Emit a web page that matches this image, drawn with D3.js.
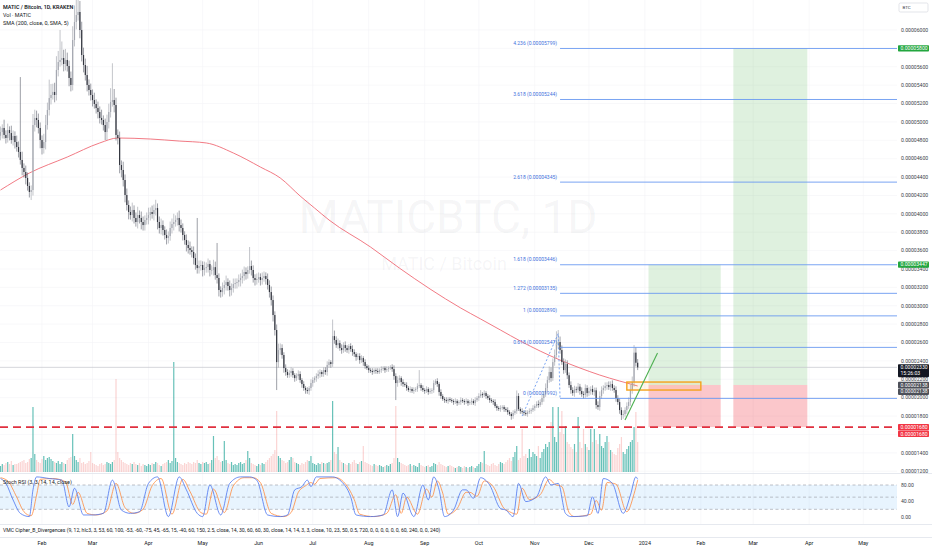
<!DOCTYPE html>
<html>
<head>
<meta charset="utf-8">
<script src="https://cdn.jsdelivr.net/npm/d3@7"></script>
<style>
  html, body { margin: 0; padding: 0; background: #fff; }
  svg { display: block; font-family: Roboto, "Noto Sans", sans-serif; }
</style>
</head>
<body>
<svg id="chart" width="932" height="550"></svg>
<script>
// prices are in satoshi (1e-8 BTC)
const firstDay = "2023-01-09";
const firstOpen = 4850;
const closes = [
  4890,4934,4858,4825,4912,4879,4803,4847,4781,4727,
  4673,4586,4499,4455,4390,4303,4238,4259,4966,5043,
  5021,4934,4803,4716,4781,4966,5130,5260,5293,5326,
  5293,5565,5652,5674,5695,5630,5674,5608,5478,5402,
  5891,6087,6163,6196,6000,5728,5619,5510,5402,5347,
  5293,5238,5195,5151,5108,5043,5021,4966,4890,4999,
  5108,5217,5238,5184,4858,4825,4531,4477,4368,4205,
  4096,4020,3987,4042,3955,3911,3987,3955,3911,3878,
  3933,3955,3987,4020,3998,4042,4063,3911,3846,3878,
  3824,3770,3737,3758,3846,3889,3911,3933,3955,3878,
  3846,3770,3715,3661,3628,3606,3585,3519,3443,3410,
  3432,3443,3389,3410,3421,3454,3389,3389,3420,3334,
  3302,3171,3149,3193,3226,3258,3215,3171,3193,3236,
  3247,3258,3280,3302,3323,3367,3345,3389,3432,3389,
  3302,3280,3291,3312,3280,3302,3323,3291,3226,3149,
  3062,2899,2736,2387,2518,2540,2464,2322,2279,2246,
  2268,2290,2246,2213,2235,2257,2192,2148,2105,2083,
  2072,2105,2159,2192,2213,2235,2257,2279,2257,2300,
  2279,2355,2387,2366,2670,2627,2572,2594,2540,2518,
  2572,2540,2518,2562,2529,2496,2474,2442,2453,2409,
  2431,2387,2344,2322,2300,2290,2279,2300,2290,2279,
  2300,2311,2322,2300,2311,2322,2333,2311,2235,2159,
  2192,2213,2170,2148,2137,2105,2083,2094,2072,2083,
  2094,2126,2137,2105,2083,2072,2094,2061,2072,2083,
  2159,2181,2148,2061,2018,1985,1974,1963,1985,1974,
  1963,1952,1963,1941,1952,1974,1963,1952,1963,1941,
  1952,1963,1941,1974,1996,2018,2039,2028,2050,2018,
  1996,1974,1963,1952,1909,1887,1876,1887,1898,1876,
  1865,1843,1822,1800,1833,1854,2018,1876,1854,1843,
  1833,1822,1843,1854,1865,1887,1909,1930,1920,1952,
  1996,2039,2105,2192,2279,2213,2387,2464,2572,2605,
  2518,2387,2300,2366,2244,2137,2083,2050,2090,2083,
  2120,2072,2039,2030,2105,2050,2072,2094,2061,2080,
  1920,1898,2018,2083,2105,2126,2137,2115,2148,2105,
  2083,1996,1952,1865,1811,1822,1865,1909,1952,2083,
  2170,2490,2380,2330
];
const wickUp = [
  60,40,90,50,70,40,80,60,50,70, 60,815,90,50,70,60,40,50,120,90,
  80,70,60,50,90,110,80,200,120,90, 100,150,120,326,180,90,120,80,60,70,
  150,180,257,150,120,90,80,70,100,60, 70,60,80,50,70,60,90,50,70,80,
  90,150,400,120,80,60,70,50,90,60, 70,50,60,80,50,60,90,50,70,60,
  50,60,80,50,70,60,90,50,60,70, 50,40,60,50,70,60,90,50,60,80,
  60,50,40,60,50,70,40,60,50,512, 60,50,40,70,50,60,40,50,80,60,
  349,50,40,60,50,70,40,60,50,60, 50,40,60,50,70,60,50,40,207,60,
  50,40,60,50,40,60,50,40,60,50, 60,50,40,60,70,50,40,30,40,30,
  30,40,30,20,30,40,30,20,30,20, 30,20,40,30,20,30,40,30,20,30,
  30,40,30,20,180,60,40,50,30,40, 30,40,30,20,30,40,30,20,30,30,
  30,20,30,20,30,20,30,20,20,30, 20,30,20,20,30,20,20,30,40,30,
  40,30,20,30,20,30,20,30,20,30, 20,30,163,20,30,20,30,20,30,20,
  30,20,30,20,30,20,20,30,20,20, 20,20,30,20,20,30,20,20,30,20,
  20,30,20,30,20,30,44,20,30,20, 20,30,20,20,30,20,20,30,20,20,
  20,30,20,20,30,20,60,30,20,30, 20,30,20,30,20,30,20,30,40,30,
  40,30,50,40,60,50,40,60,150,131, 60,50,40,50,40,30,40,30,40,30,
  40,30,40,30,40,30,40,30,40,30, 30,40,50,40,30,40,30,40,30,40,
  30,40,30,40,30,40,30,40,50,60, 60,82,60,40
];
const wickDn = [
  50,70,40,60,50,80,40,60,70,50, 60,50,80,60,70,50,60,88,60,70,
  80,60,90,70,60,80,50,60,70,50, 80,60,70,50,60,80,70,60,90,70,
  60,70,80,60,90,70,80,60,70,60, 60,70,50,60,70,60,50,60,87,87,
  70,60,50,80,60,70,90,80,70,80, 60,80,50,70,60,50,70,60,80,60,
  60,50,70,60,50,70,60,80,60,70, 60,50,70,60,50,60,70,50,60,70,
  50,60,50,70,60,50,60,70,50,60, 60,50,70,60,50,60,70,50,60,50,
  60,70,60,50,70,60,50,70,60,50, 50,60,50,70,60,50,60,50,40,60,
  50,60,50,40,60,50,40,60,50,60, 60,70,60,304,60,50,40,50,40,30,
  30,40,30,40,30,40,30,40,30,40, 30,40,30,40,30,40,30,40,30,30,
  30,40,30,40,30,40,30,40,30,40, 30,40,30,40,30,40,30,40,30,40,
  30,40,30,20,30,20,30,20,30,20, 20,30,20,30,20,30,20,30,40,185,
  40,30,40,30,20,30,20,30,20,30, 20,30,20,30,20,30,20,30,20,30,
  30,20,30,40,30,20,30,20,30,20, 20,30,20,30,20,30,20,30,20,30,
  20,30,20,30,20,30,20,30,20,30, 20,30,20,30,20,30,20,30,20,30,
  20,30,20,40,30,20,30,20,30,20, 30,20,30,20,30,20,30,20,30,20,
  30,40,30,40,30,40,30,40,30,40, 40,30,40,30,40,30,40,30,40,30,
  30,40,30,40,30,40,30,40,30,40, 40,30,40,30,40,30,40,30,40,30,
  30,40,30,40,54,40,30,40,30,40, 40,50,40,30
];
const volumes = [
  6,8,7,9,10,8,11,7,8,8, 9,10,11,12,9,10,13,14,65,18,
  12,10,9,13,16,12,14,15,13,11, 10,9,11,8,10,9,8,12,14,15,
  38,16,12,10,14,9,10,8,9,11, 20,9,8,7,6,8,9,7,8,10,
  9,8,10,12,93,20,14,12,10,9, 8,7,9,8,10,8,7,9,6,8,
  7,6,8,7,9,8,10,9,7,6, 8,9,10,12,9,11,110,14,10,9,
  8,7,9,8,10,9,8,10,9,12, 9,8,10,9,10,8,9,12,36,14,
  16,12,10,11,31,12,9,8,10,7, 8,7,9,10,8,9,12,21,14,9,
  8,7,6,8,7,9,8,10,12,14, 16,18,22,61,16,14,12,11,9,10,
  12,15,14,10,9,8,7,9,8,10, 12,11,16,9,8,7,9,8,10,9,
  8,9,10,12,71,20,18,25,12,10, 9,8,7,9,8,10,12,9,8,10,
  11,26,10,9,8,7,6,8,7,6, 7,6,5,6,7,6,8,9,14,66,
  14,10,9,8,7,6,7,8,6,7, 6,5,9,7,6,5,6,7,5,6,
  9,8,7,10,8,7,6,5,6,7, 6,5,4,5,6,5,4,6,5,4,
  5,6,5,4,6,8,10,9,21,8, 7,6,8,9,7,6,8,10,9,8,
  10,12,14,11,15,20,26,12,14,43, 16,18,14,23,15,20,18,16,26,14,
  20,23,28,25,30,50,65,35,30,65, 40,61,38,46,30,28,25,23,28,20,
  55,30,24,43,28,25,22,43,30,43, 32,28,38,26,24,30,36,30,22,20,
  18,17,24,28,35,20,18,23,26,30, 32,45,60,30
];
// [candle index, value]
const smaPoints = [
  [0,4259],[16,4444],[37,4618],[55,4771],[65,4825],[83,4814],[99,4792],[114,4771],
  [129,4662],[144,4509],[155,4390],[166,4194],[174,4063],[182,3933],[205,3639],
  [221,3410],[238,3182],[255,2975],[266,2856],[277,2736],[288,2616],[299,2507],
  [310,2409],[321,2323],[332,2246],[343,2181],[353,2127]
];
const stochK = [
  [0,96],[3,84],[7,43],[11,10],[16,2],[18,68],[20,100],[27,96],[34,92],[38,26],[41,72],
  [46,6],[51,6],[57,10],[62,92],[67,18],[72,10],[77,14],[82,84],[87,100],[93,2],[99,100],
  [103,68],[109,10],[112,2],[116,80],[122,6],[127,84],[133,100],[138,100],[142,92],[148,6],
  [155,2],[159,6],[163,68],[167,76],[170,92],[172,76],[175,100],[184,100],[188,92],[194,51],
  [197,6],[205,2],[212,6],[217,68],[220,2],[223,60],[229,2],[234,80],[237,43],[240,100],
  [243,68],[246,2],[251,18],[256,68],[258,68],[262,47],[266,98],[271,80],[277,22],[280,18],
  [284,2],[287,84],[291,39],[297,51],[302,100],[305,80],[309,84],[313,10],[316,2],[325,4],
  [328,51],[331,10],[334,96],[339,84],[345,10],[349,55],[352,100],[353,94]
];
const stochD = [
  [0,98],[4,90],[9,50],[13,14],[17,4],[20,55],[22,94],[29,96],[36,88],[40,32],[43,62],
  [48,10],[53,6],[59,16],[64,84],[69,24],[74,10],[79,20],[84,78],[89,96],[95,8],[101,94],
  [105,64],[111,12],[114,8],[118,70],[124,12],[129,78],[135,98],[140,98],[144,86],[150,10],
  [157,2],[161,12],[165,62],[169,78],[172,86],[174,82],[177,96],[186,98],[190,88],[196,44],
  [199,8],[207,2],[214,10],[219,56],[222,10],[225,50],[231,8],[236,70],[239,50],[242,90],
  [245,60],[248,8],[253,22],[258,62],[260,62],[264,52],[268,90],[273,76],[279,22],[282,14],
  [286,8],[289,72],[293,44],[299,56],[304,94],[307,82],[311,76],[315,12],[318,2],[327,8],
  [330,42],[333,18],[336,86],[341,82],[347,14],[351,58],[353,92]
];
const fibLevels = [0, 0.618, 1, 1.272, 1.618, 2.618, 3.618, 4.236];
const fibPrices = [1992, 2547, 2890, 3135, 3446, 4345, 5244, 5799];
const fibAnchors = [["2023-10-25", 1800], ["2023-11-14", 2698], ["2023-11-15", 1992]];
const positions = [
  { start: "2024-01-03", end: "2024-02-12", entry: 2138, target: 3447, stop: 1680 },
  { start: "2024-02-19", end: "2024-03-31", entry: 2138, target: 5800, stop: 1680 }
];
const zoneBox = { start: "2023-12-22", end: "2024-02-01", top: 2170, bottom: 2083 };
const trendLine = [["2023-12-21", 1757], ["2024-01-08", 2486]];
const stopLevel = 1680;
const lastPrice = 2330;
const countdown = "15:26:03";
const monthTicks = [
  ["2023-02-01","Feb"],["2023-03-01","Mar"],["2023-04-01","Apr"],["2023-05-01","May"],
  ["2023-06-01","Jun"],["2023-07-01","Jul"],["2023-08-01","Aug"],["2023-09-01","Sep"],
  ["2023-10-01","Oct"],["2023-11-01","Nov"],["2023-12-01","Dec"],["2024-01-01","2024"],
  ["2024-02-01","Feb"],["2024-03-01","Mar"],["2024-04-01","Apr"],["2024-05-01","May"]
];
const priceTicks = d3.range(1200, 6001, 200);
const stochTicks = [0, 40, 80];
const stochLines = [20, 50, 80];

const svg = d3.select("#chart");
const plotR = 897, paneB = 473;
const fmt = v => (v / 1e8).toFixed(8);
const day0 = new Date(firstDay + "T00:00:00Z");
const dayOf = i => d3.utcDay.offset(day0, i);
const dt = s => new Date(s + "T00:00:00Z");

const x = d3.scaleUtc().domain([dt("2023-02-01"), dt("2024-05-01")]).range([42, 863.3]);
const y = d3.scaleLinear().domain([6000, 1200]).range([30, 471.2]);
const yv = d3.scaleLinear().domain([0, 110]).range([472, 362]);
const ys = d3.scaleLinear().domain([0, 100]).range([517.4, 476.9]);

const bars = closes.map((c, i) => {
  const o = i ? closes[i - 1] : firstOpen;
  return { date: dayOf(i), o, c, h: Math.max(o, c) + wickUp[i], l: Math.min(o, c) - wickDn[i], v: volumes[i] };
});

svg.append("defs").append("clipPath").attr("id", "pane")
  .append("rect").attr("x", 0).attr("y", 0).attr("width", plotR).attr("height", paneB);

// grid
const grid = svg.append("g").attr("stroke", "#f3f4f6").attr("stroke-width", 0.6);
grid.selectAll(".h").data(priceTicks).join("line")
  .attr("x1", 0).attr("x2", plotR).attr("y1", d => y(d)).attr("y2", d => y(d));
grid.selectAll(".v").data(monthTicks).join("line")
  .attr("x1", d => x(dt(d[0]))).attr("x2", d => x(dt(d[0]))).attr("y1", 0).attr("y2", 524);

const pane = svg.append("g").attr("clip-path", "url(#pane)");

// watermark
pane.append("text").attr("x", 448).attr("y", 233).attr("text-anchor", "middle")
  .attr("font-size", 46).attr("fill", "rgba(120,123,134,0.07)").text("MATICBTC, 1D");
pane.append("text").attr("x", 444).attr("y", 270).attr("text-anchor", "middle")
  .attr("font-size", 18).attr("fill", "rgba(120,123,134,0.07)").text("MATIC / Bitcoin");

// volume
pane.append("g").selectAll("rect").data(bars).join("rect")
  .attr("x", d => x(d.date) - 0.6).attr("width", 1.2)
  .attr("y", d => yv(d.v)).attr("height", d => yv(0) - yv(d.v))
  .attr("fill", d => d.c >= d.o ? "rgba(38,166,154,0.7)" : "rgba(239,83,80,0.25)");

// long positions
positions.forEach(p => {
  const x0 = x(dt(p.start)), x1 = x(dt(p.end));
  pane.append("rect").attr("x", x0).attr("width", x1 - x0)
    .attr("y", y(p.target)).attr("height", y(p.entry) - y(p.target)).attr("fill", "rgba(76,175,80,0.18)");
  pane.append("rect").attr("x", x0).attr("width", x1 - x0)
    .attr("y", y(p.entry)).attr("height", y(p.stop) - y(p.entry)).attr("fill", "rgba(242,54,69,0.28)");
});

// stop level
pane.append("line").attr("x1", 0).attr("x2", plotR).attr("y1", y(stopLevel)).attr("y2", y(stopLevel))
  .attr("stroke", "#e0303f").attr("stroke-width", 1.8).attr("stroke-dasharray", "8,5");

// last price line
pane.append("line").attr("x1", 0).attr("x2", plotR).attr("y1", y(lastPrice)).attr("y2", y(lastPrice))
  .attr("stroke", "#c3c5cb").attr("stroke-width", 0.7);

// SMA 200
pane.append("path").datum(smaPoints)
  .attr("fill", "none").attr("stroke", "#ef6b76").attr("stroke-width", 0.9)
  .attr("d", d3.line().x(d => x(dayOf(d[0]))).y(d => y(d[1])).curve(d3.curveMonotoneX));

// candles
const cg = pane.append("g");
cg.selectAll("line").data(bars).join("line")
  .attr("x1", d => x(d.date)).attr("x2", d => x(d.date))
  .attr("y1", d => y(d.h)).attr("y2", d => y(d.l))
  .attr("stroke", d => d.c >= d.o ? "#9a9da6" : "#5d606b").attr("stroke-width", 0.6);
cg.selectAll("rect").data(bars).join("rect")
  .attr("x", d => x(d.date) - 0.6).attr("width", 1.2)
  .attr("y", d => y(Math.max(d.o, d.c)))
  .attr("height", d => Math.max(0.6, Math.abs(y(d.o) - y(d.c))))
  .attr("fill", d => d.c >= d.o ? "#a4a7b0" : "#33363f");

// fib extension
const fx0 = x(dt(fibAnchors[2][0]));
pane.append("path").datum(fibAnchors)
  .attr("fill", "none").attr("stroke", "#5b8ff0").attr("stroke-width", 0.8).attr("stroke-dasharray", "2,2")
  .attr("d", d3.line().x(d => x(dt(d[0]))).y(d => y(d[1])));
const fib = pane.append("g");
fib.selectAll("line").data(fibPrices).join("line")
  .attr("x1", fx0).attr("x2", plotR).attr("y1", d => y(d)).attr("y2", d => y(d))
  .attr("stroke", "#6b9af0").attr("stroke-width", 0.9);
fib.selectAll("text").data(fibPrices).join("text")
  .attr("x", fx0 - 3).attr("y", d => y(d) - 3.5).attr("text-anchor", "end")
  .attr("font-size", 5).attr("fill", "#3f72dc")
  .text((d, i) => `${fibLevels[i]} (${fmt(d)})`);

// zone box
pane.append("rect")
  .attr("x", x(dt(zoneBox.start))).attr("width", x(dt(zoneBox.end)) - x(dt(zoneBox.start)))
  .attr("y", y(zoneBox.top)).attr("height", y(zoneBox.bottom) - y(zoneBox.top))
  .attr("fill", "rgba(255,152,0,0.08)").attr("stroke", "#f5a21c").attr("stroke-width", 1.4);

// trend line
pane.append("line")
  .attr("x1", x(dt(trendLine[0][0]))).attr("y1", y(trendLine[0][1]))
  .attr("x2", x(dt(trendLine[1][0]))).attr("y2", y(trendLine[1][1]))
  .attr("stroke", "#4caf50").attr("stroke-width", 1.1);

// legends
const lg = svg.append("g").attr("font-size", 5.4).attr("fill", "#131722");
lg.append("text").attr("x", 3).attr("y", 8.6).attr("font-weight", 600).text("MATIC / Bitcoin, 1D, KRAKEN");
lg.append("text").attr("x", 3).attr("y", 16.9).text("Vol · MATIC");
lg.append("text").attr("x", 3).attr("y", 25.2).text("SMA (200, close, 0, SMA, 5)");

// separators
svg.append("g").attr("stroke", "#e0e3eb").attr("stroke-width", 0.8)
  .selectAll("line").data([473.5, 524.5, 537.5]).join("line")
  .attr("x1", 0).attr("x2", 932).attr("y1", d => d).attr("y2", d => d);

// stoch RSI pane
svg.append("rect").attr("x", 0).attr("width", plotR)
  .attr("y", ys(80)).attr("height", ys(20) - ys(80)).attr("fill", "rgba(33,150,243,0.1)");
svg.append("g").selectAll("line").data(stochLines).join("line")
  .attr("x1", 0).attr("x2", plotR).attr("y1", d => ys(d)).attr("y2", d => ys(d))
  .attr("stroke", "#9598a1").attr("stroke-width", 0.6).attr("stroke-dasharray", "3,2.5");
const sLine = d3.line().x(d => x(dayOf(d[0]))).y(d => ys(d[1])).curve(d3.curveMonotoneX);
svg.append("path").datum(stochD).attr("fill", "none").attr("stroke", "#ff8a3d").attr("stroke-width", 0.8).attr("d", sLine);
svg.append("path").datum(stochK).attr("fill", "none").attr("stroke", "#4a73f0").attr("stroke-width", 0.8).attr("d", sLine);
svg.append("text").attr("x", 3).attr("y", 483.8).attr("font-size", 5.4).attr("fill", "#131722")
  .text("Stoch RSI (3, 3, 14, 14, close)");
svg.append("text").attr("x", 3).attr("y", 532).attr("font-size", 5.1).attr("fill", "#131722")
  .text("VMC Cipher_B_Divergences (9, 12, hlc3, 3, 53, 60, 100, -53, -60, -75, 45, -65, 15, -40, 60, 150, 2.5, close, 14, 30, 60, 60, 30, close, 14, 14, 3, 3, close, 10, 23, 50, 0.5, 720, 0, 0, 0, 0, 0, 0, 60, 240, 0, 0, 240)");

// time axis
svg.append("g").selectAll("text").data(monthTicks).join("text")
  .attr("x", d => x(dt(d[0]))).attr("y", 545).attr("text-anchor", "middle")
  .attr("font-size", 5.4).attr("fill", "#131722").text(d => d[1]);

// price axis
const ax = svg.append("g").attr("font-size", 5.1).attr("fill", "#3b3f4a");
ax.selectAll(".p").data(priceTicks).join("text")
  .attr("x", 901).attr("y", d => y(d) + 1.8).text(d => fmt(d));
ax.selectAll(".s").data(stochTicks).join("text")
  .attr("x", 901).attr("y", d => ys(d) + 1.8).text(d => d.toFixed(2));

svg.append("rect").attr("x", 899).attr("y", 3).attr("width", 29).attr("height", 9).attr("rx", 1.5)
  .attr("fill", "#fff").attr("stroke", "#d1d4dc").attr("stroke-width", 0.6);
svg.append("text").attr("x", 902.5).attr("y", 9.2).attr("font-size", 4.4).attr("fill", "#3b3f4a").text("BTC");

// price tags
const tags = [
  { p: 5800, off: 0, fill: "#23a63f" },
  { p: 3447, off: 0, fill: "#23a63f" },
  { p: positions[0].entry, off: 0, fill: "#4d5059" },
  { p: positions[1].entry, off: 6.7, fill: "#4d5059" },
  { p: stopLevel, off: 0, fill: "#f23645" },
  { p: stopLevel, off: 6.7, fill: "#f23645" }
];
const tg = svg.append("g");
tags.forEach(t => {
  const cy = y(t.p) + t.off;
  tg.append("rect").attr("x", 898).attr("y", cy - 3.2).attr("width", 31).attr("height", 6.4).attr("rx", 0.8).attr("fill", t.fill);
  tg.append("text").attr("x", 900.5).attr("y", cy + 1.8).attr("font-size", 5.1).attr("fill", "#fff").text(fmt(t.p));
});
const ly = y(lastPrice);
tg.append("rect").attr("x", 898).attr("y", ly - 3.2).attr("width", 31).attr("height", 13).attr("rx", 0.8).attr("fill", "#131722");
tg.append("text").attr("x", 900.5).attr("y", ly + 1.8).attr("font-size", 5.1).attr("fill", "#fff").text(fmt(lastPrice));
tg.append("text").attr("x", 900.5).attr("y", ly + 8).attr("font-size", 5.1).attr("fill", "#fff").text(countdown);
</script>
</body>
</html>
